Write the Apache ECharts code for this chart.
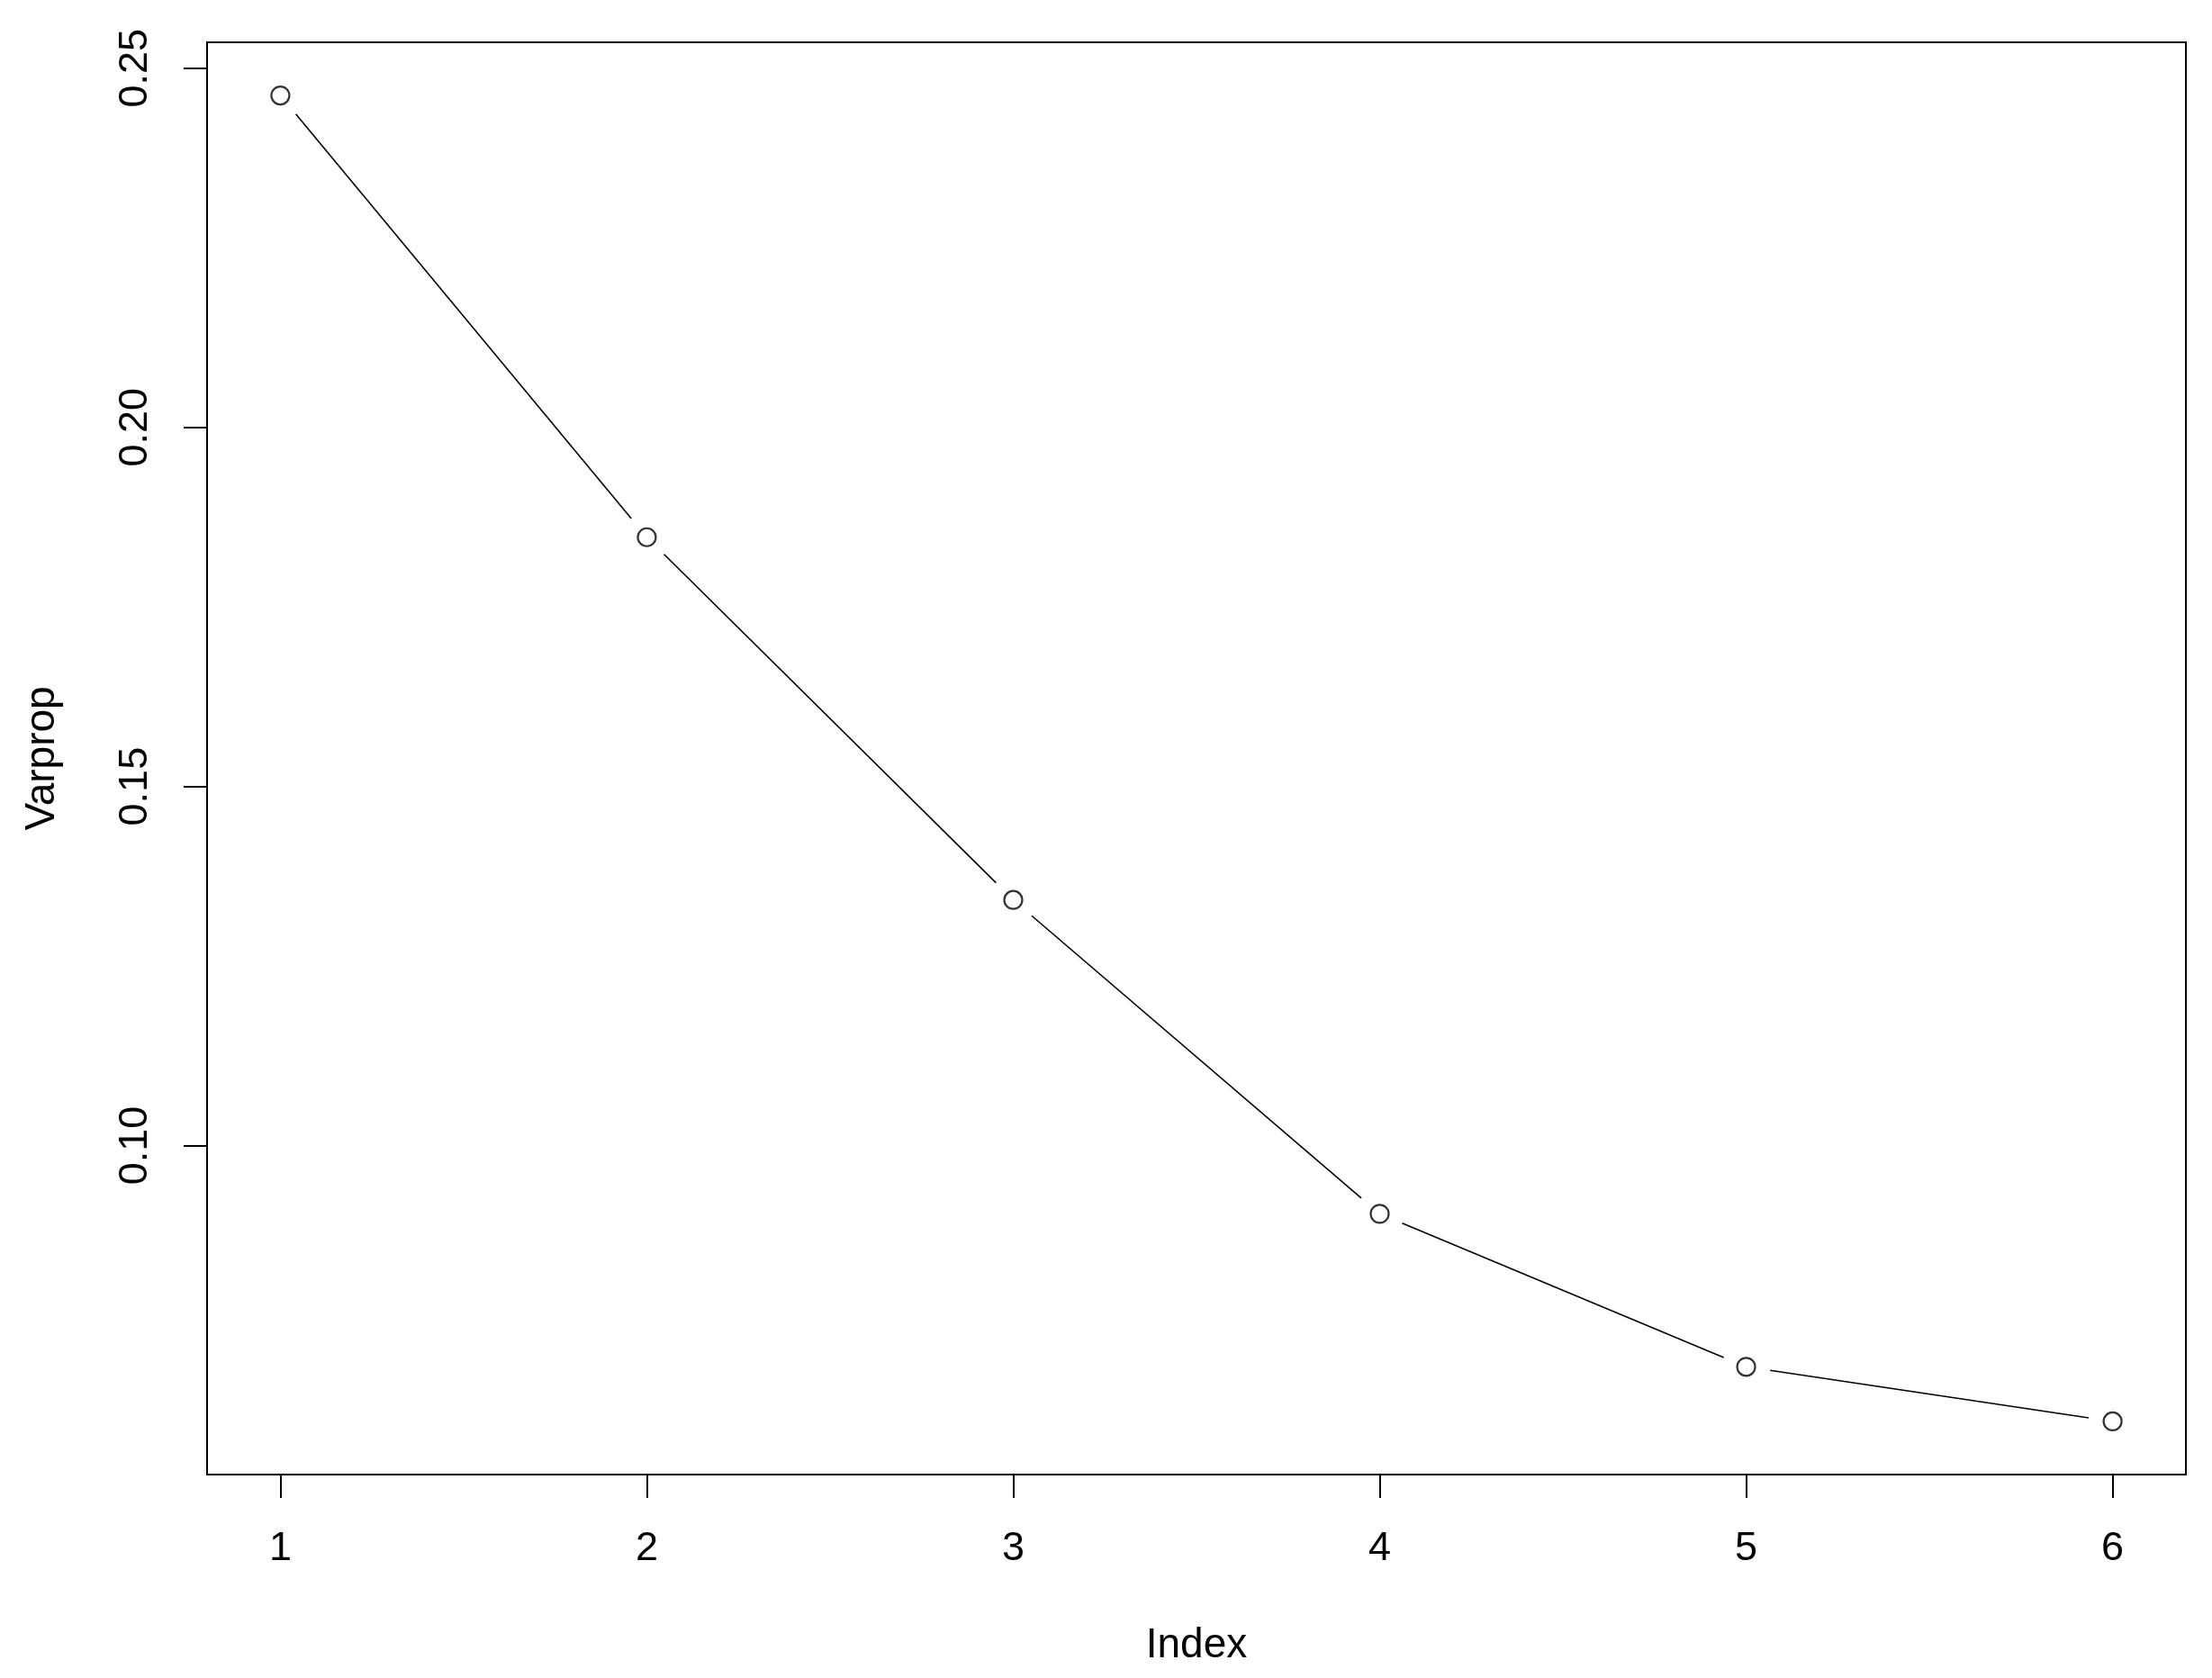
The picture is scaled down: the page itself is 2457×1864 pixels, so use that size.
<!DOCTYPE html>
<html>
<head>
<meta charset="utf-8">
<title>Varprop</title>
<script src="https://cdn.jsdelivr.net/npm/echarts@6/dist/echarts.min.js"></script>
<style>
	html, body { margin: 0; padding: 0; background: #fff; }
	#chartWrapper { width: 2457px; height: 1864px; }
</style>
</head>
<body>
<div id="chartWrapper"></div>
<script>
	// values
	var indexValues = [1, 2, 3, 4, 5, 6];
	var varprop = [0.2462, 0.1847, 0.1342, 0.0905, 0.0692, 0.0616];
	var xTicks = [1, 2, 3, 4, 5, 6];
	var yTicks = [0.10, 0.15, 0.20, 0.25];

	var points = indexValues.map(function (x, i) { return [x, varprop[i]]; });
	// segments between consecutive points (R type="b" leaves a gap round each point)
	var segments = [];
	for (var i = 0; i < indexValues.length - 1; i++) {
		segments.push([indexValues[i], varprop[i], indexValues[i + 1], varprop[i + 1]]);
	}

	var font = 'Liberation Sans, Arial, sans-serif';
	var myChart = echarts.init(document.getElementById('chartWrapper'));

	myChart.setOption({
		animation: false,
		backgroundColor: '#fff',
		grid: {
			left: 230, top: 47, right: 29, bottom: 226,
			show: true,
			borderColor: '#000',
			borderWidth: 2,
			backgroundColor: 'transparent'
		},
		xAxis: {
			type: 'value',
			min: 0.8,
			max: 6.2,
			name: 'Index',
			nameLocation: 'middle',
			nameGap: 167,
			nameTextStyle: { fontFamily: font, fontSize: 46, color: '#000', lineHeight: 46 },
			axisLine: { show: false },
			splitLine: { show: false },
			axisTick: {
				show: true, inside: false, length: 26,
				customValues: xTicks,
				lineStyle: { color: '#000', width: 2 }
			},
			axisLabel: {
				customValues: xTicks,
				margin: 60,
				fontFamily: font, fontSize: 45, color: '#000', lineHeight: 45
			}
		},
		yAxis: {
			type: 'value',
			min: 0.0542,
			max: 0.2536,
			name: 'Varprop',
			nameLocation: 'middle',
			nameGap: 160,
			nameRotate: 90,
			nameTextStyle: { fontFamily: font, fontSize: 46, color: '#000', lineHeight: 46 },
			axisLine: { show: false },
			splitLine: { show: false },
			axisTick: {
				show: true, inside: false, length: 26,
				customValues: yTicks,
				lineStyle: { color: '#000', width: 2 }
			},
			axisLabel: {
				customValues: yTicks,
				rotate: 90,
				margin: 57,
				formatter: function (v) { return v.toFixed(2); },
				fontFamily: font, fontSize: 45, color: '#000', lineHeight: 45
			}
		},
		series: [{
			type: 'custom',
			data: segments,
			encode: { x: [0, 2], y: [1, 3] },
			silent: true,
			renderItem: function (params, api) {
				var p0 = api.coord([api.value(0), api.value(1)]);
				var p1 = api.coord([api.value(2), api.value(3)]);
				var dx = p1[0] - p0[0], dy = p1[1] - p0[1];
				var len = Math.sqrt(dx * dx + dy * dy);
				var gap = 27; // gap round each point
				var ux = dx / len, uy = dy / len;
				return {
					type: 'line',
					shape: {
						x1: p0[0] + ux * gap, y1: p0[1] + uy * gap,
						x2: p1[0] - ux * gap, y2: p1[1] - uy * gap
					},
					style: { stroke: '#000', lineWidth: 1.6 }
				};
			}
		}, {
			type: 'scatter',
			data: points,
			symbol: 'circle',
			symbolSize: 20,
			itemStyle: { color: '#fff', borderColor: '#000', borderWidth: 2.2 }
		}]
	});
</script>
</body>
</html>
